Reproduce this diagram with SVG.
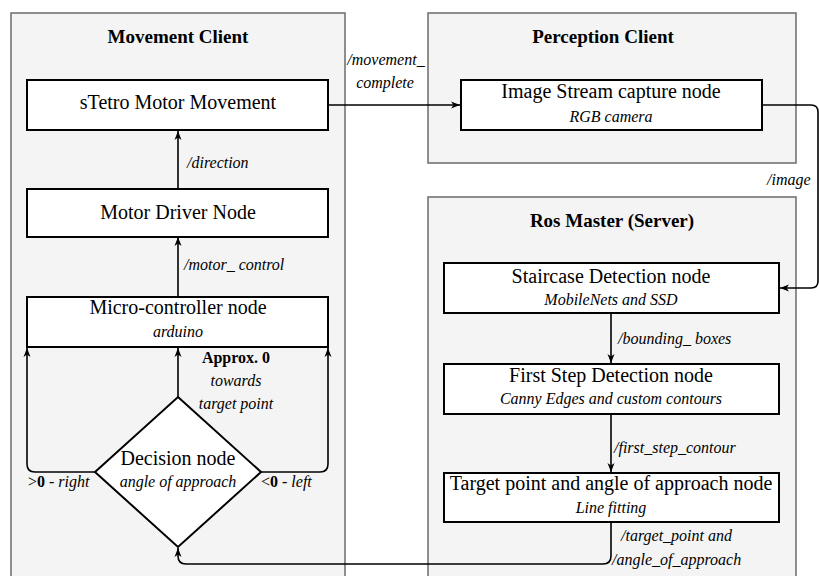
<svg xmlns="http://www.w3.org/2000/svg" width="819" height="576" viewBox="0 0 819 576" font-family="'Liberation Serif', 'DejaVu Serif', serif">
<style>
.cont{fill:#f4f4f4;stroke:#6b6b6b;stroke-width:1.5}
.box{fill:#fff;stroke:#000;stroke-width:2}
text{font-family:'Liberation Serif','DejaVu Serif',serif;fill:#000}
.title{font-size:19px;font-weight:bold;text-anchor:middle}
.main{font-size:20px;text-anchor:middle}
.sub{font-size:16px;font-style:italic;text-anchor:middle}
.lbl{font-size:16px;font-style:italic}
.e{fill:none;stroke:#000;stroke-width:1.6}
</style>
<defs>
<marker id="ah" markerUnits="userSpaceOnUse" markerWidth="10" markerHeight="8" refX="9" refY="4" orient="auto">
<path d="M0,0.5 L9,4 L0,7.5 L2.5,4 Z" fill="#000"/>
</marker>
</defs>
<rect width="819" height="576" fill="#fff"/>
<g id="movement-client">
<rect class="cont" x="11" y="13" width="334" height="600"/>
<text class="title" x="178" y="43">Movement Client</text>
</g>
<g id="perception-client">
<rect class="cont" x="428" y="13" width="368" height="150"/>
<text class="title" x="603" y="43">Perception Client</text>
</g>
<g id="ros-master">
<rect class="cont" x="428" y="197" width="368" height="400"/>
<text class="title" x="612" y="227">Ros Master (Server)</text>
</g>
<g id="connectors">
<path class="e" d="M178,189 L178,131" marker-end="url(#ah)"/>
<path class="e" d="M178,297 L178,237" marker-end="url(#ah)"/>
<path class="e" d="M178,397 L178,348" marker-end="url(#ah)"/>
<path class="e" d="M95,472 L35,472 Q27,472 27,464 L27,348" marker-end="url(#ah)"/>
<path class="e" d="M261,472 L320,472 Q328,472 328,464 L328,348" marker-end="url(#ah)"/>
<path class="e" d="M328,105 L460,105" marker-end="url(#ah)"/>
<path class="e" d="M762,105 L811,105 Q818,105 818,112 L818,281 Q818,288 811,288 L780,288" marker-end="url(#ah)"/>
<path class="e" d="M611,313 L611,363" marker-end="url(#ah)"/>
<path class="e" d="M611,414 L611,472" marker-end="url(#ah)"/>
<path class="e" d="M611,522 L611,556 Q611,564 603,564 L186,564 Q178,564 178,556 L178,548" marker-end="url(#ah)"/>
<text class="lbl" x="187" y="168">/direction</text>
<text class="lbl" x="184" y="270">/motor_ control</text>
<text class="lbl" x="386" y="65" text-anchor="middle">/movement_</text>
<text class="lbl" x="385" y="88" text-anchor="middle">complete</text>
<text class="lbl" x="767" y="185">/image</text>
<text class="lbl" x="618" y="344">/bounding_ boxes</text>
<text class="lbl" x="614" y="453">/first_step_contour</text>
<text class="lbl" x="621" y="541">/target_point and</text>
<text class="lbl" x="612" y="565">/angle_of_approach</text>
<text x="236" y="363" font-size="16" font-weight="bold" text-anchor="middle">Approx. 0</text>
<text class="sub" x="236" y="386">towards</text>
<text class="sub" x="236" y="409">target point</text>
<text x="28" y="487" font-size="16">&gt;<tspan font-weight="bold">0</tspan> - <tspan font-style="italic">right</tspan></text>
<text x="261" y="487" font-size="16">&lt;<tspan font-weight="bold">0</tspan> - <tspan font-style="italic">left</tspan></text>
</g>
<g id="stetro-motor-movement">
<rect class="box" x="27" y="80" width="301" height="50"/>
<text class="main" x="178" y="109">sTetro Motor Movement</text>
</g>
<g id="motor-driver-node">
<rect class="box" x="27" y="189" width="301" height="48"/>
<text class="main" x="178" y="219">Motor Driver Node</text>
</g>
<g id="micro-controller-node">
<rect class="box" x="27" y="297" width="301" height="50"/>
<text class="main" x="178" y="314">Micro-controller node</text>
<text class="sub" x="178" y="337">arduino</text>
</g>
<g id="decision-node">
<polygon points="178,397 261,472 178,547 95,472" fill="#fff" stroke="#000" stroke-width="2"/>
<text class="main" x="178" y="465">Decision node</text>
<text class="sub" x="178" y="487">angle of approach</text>
</g>
<g id="image-stream-node">
<rect class="box" x="461" y="80" width="301" height="50"/>
<text class="main" x="611" y="98">Image Stream capture node</text>
<text class="sub" x="611" y="122">RGB camera</text>
</g>
<g id="staircase-detection-node">
<rect class="box" x="444" y="263" width="335" height="50"/>
<text class="main" x="611" y="283">Staircase Detection node</text>
<text class="sub" x="611" y="305">MobileNets and SSD</text>
</g>
<g id="first-step-detection-node">
<rect class="box" x="444" y="364" width="335" height="50"/>
<text class="main" x="611" y="382">First Step Detection node</text>
<text class="sub" x="611" y="404">Canny Edges and custom contours</text>
</g>
<g id="target-point-node">
<rect class="box" x="444" y="473" width="335" height="49"/>
<text class="main" x="611" y="490">Target point and angle of approach node</text>
<text class="sub" x="611" y="513">Line fitting</text>
</g>
</svg>
